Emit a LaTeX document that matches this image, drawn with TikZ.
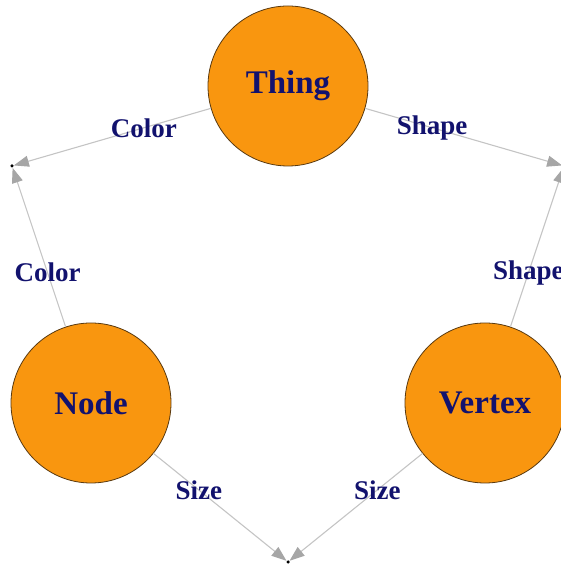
\documentclass[tikz,border=0pt]{standalone}
\usepackage{fontspec}
\setmainfont{Liberation Serif}
\usetikzlibrary{arrows.meta}
\begin{document}
\begin{tikzpicture}[x=1pt, y=1pt]
    \definecolor{fillColour}{HTML}{F9960F}
    \definecolor{borderColour}{HTML}{5A3A10}
    \definecolor{textColour}{HTML}{12126E}
    \definecolor{edgeColour}{HTML}{C4C4C4}
    \definecolor{tipColour}{HTML}{A6A6A6}

    \tikzset{
        thing/.style={circle, fill=fillColour, draw=borderColour, line width=0.8pt,
            minimum size=160pt, inner sep=0pt, text=textColour,
            font=\fontsize{33}{36}\selectfont\bfseries},
        point/.style={circle, fill=black, inner sep=0pt, minimum size=3.5pt},
        link/.style={draw=edgeColour, line width=1.1pt,
            -{Triangle[length=15pt, width=11pt, color=tipColour]}},
        tag/.style={text=textColour, font=\fontsize{27}{30}\selectfont\bfseries, pos=0.34}
    }

    % Fix the page size
    \useasboundingbox (0,0) rectangle (561,564);
    \clip (0,0) rectangle (561,564);

    % Draw the three things
    \node[thing] (thing)  at (288,478) {Thing};
    \node[thing] (node)   at (91,161)  {Node};
    \node[thing] (vertex) at (485,161) {Vertex};

    % Draw the end points
    \node[point] (colorPt) at (12,398)  {};
    \node[point] (shapePt) at (564,398) {};
    \node[point] (sizePt)  at (288,2)   {};

    % Draw the links
    \draw[link] (thing)  -- (colorPt) node[tag] {Color};
    \draw[link] (thing)  -- (shapePt) node[tag] {Shape};
    \draw[link] (node)   -- (colorPt) node[tag] {Color};
    \draw[link] (vertex) -- (shapePt) node[tag] {Shape};
    \draw[link] (node)   -- (sizePt)  node[tag] {Size};
    \draw[link] (vertex) -- (sizePt)  node[tag] {Size};

\end{tikzpicture}
\end{document}
